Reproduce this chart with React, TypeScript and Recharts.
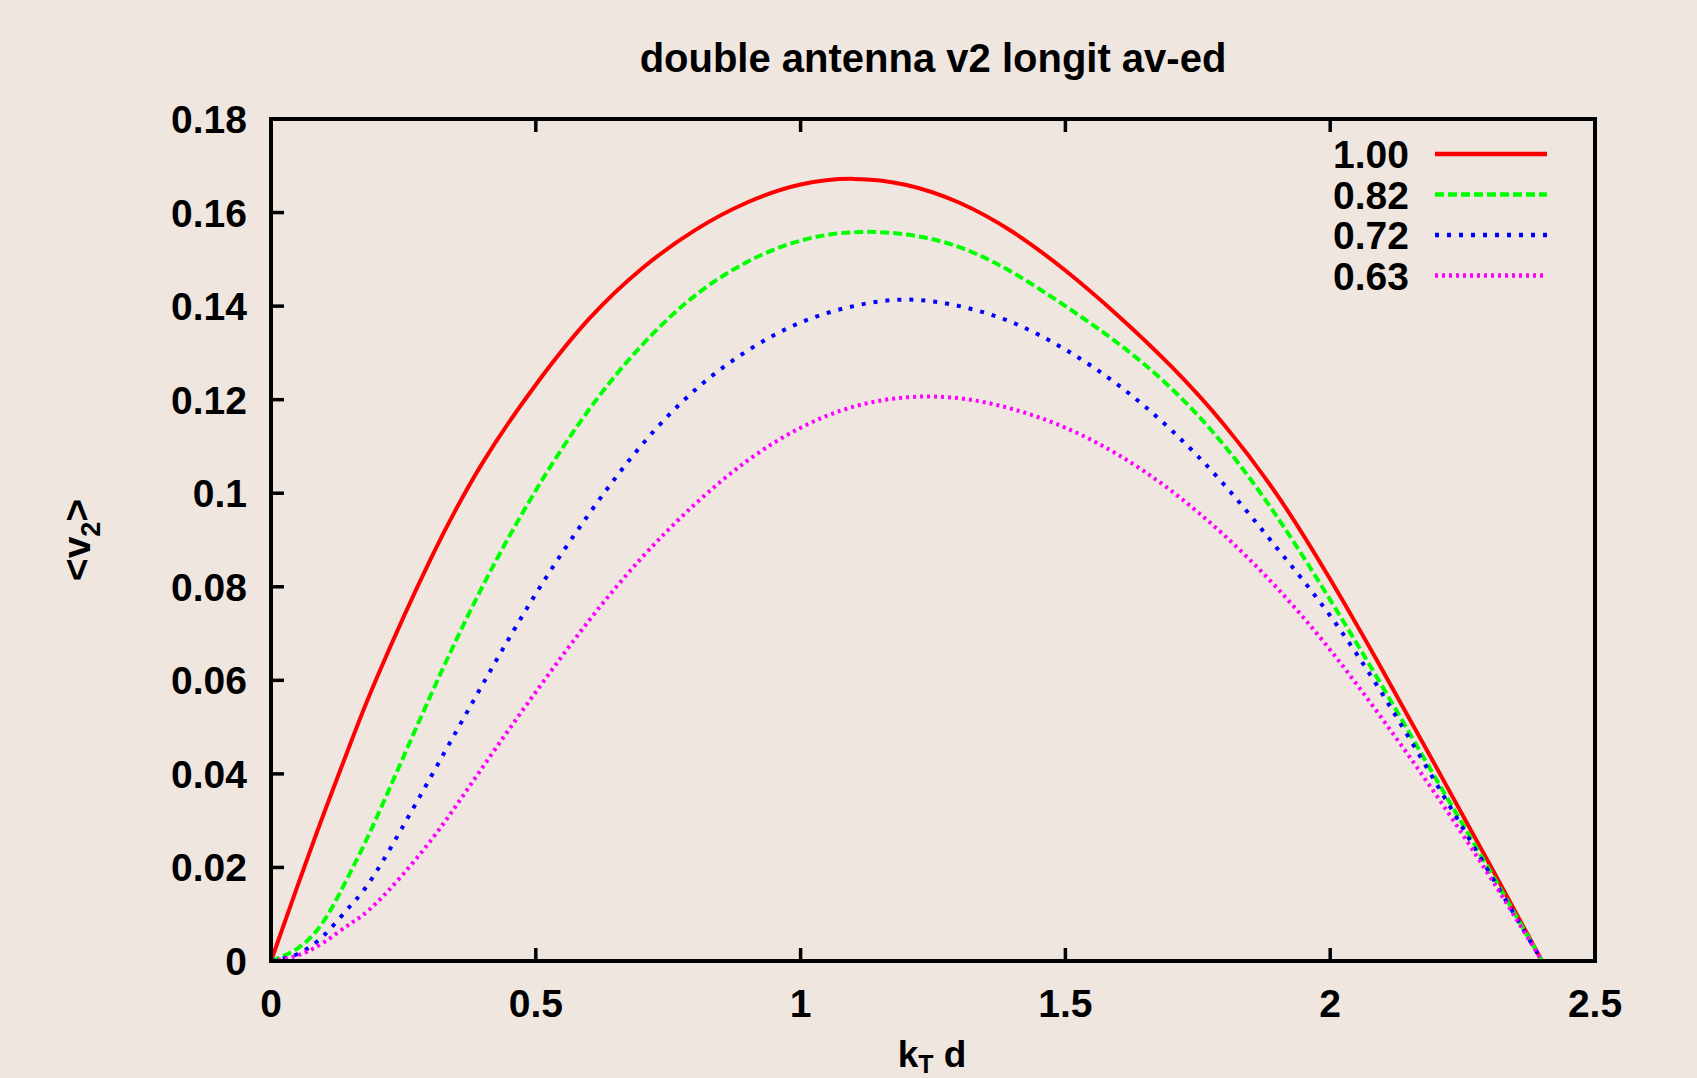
import React from 'react';
import { LineChart, Line, XAxis, YAxis, Legend } from 'recharts';

// ---- data ----
const kT = [0, 0.05, 0.1, 0.15, 0.2, 0.3, 0.4, 0.5, 0.6, 0.7, 0.8, 0.9, 1.0, 1.1, 1.2, 1.3, 1.4, 1.5, 1.6, 1.7, 1.8, 1.9, 2.0, 2.1, 2.2, 2.3, 2.4];
const v2_100 = [0, 0.016, 0.0316, 0.0465, 0.0606, 0.0856, 0.1066, 0.1232, 0.1372, 0.148, 0.1562, 0.1622, 0.166, 0.1672, 0.1659, 0.1621, 0.1559, 0.1476, 0.1379, 0.1271, 0.1146, 0.0996, 0.0816, 0.0619, 0.0415, 0.0209, 0];
const v2_082 = [0, 0.0027, 0.0086, 0.019, 0.0308, 0.0564, 0.0802, 0.1006, 0.1178, 0.1316, 0.1422, 0.1495, 0.154, 0.1558, 0.1553, 0.1526, 0.1472, 0.14, 0.132, 0.1224, 0.1102, 0.0949, 0.0772, 0.0584, 0.0389, 0.0196, 0];
const v2_072 = [0, 0.0015, 0.0055, 0.0118, 0.0193, 0.039, 0.0592, 0.0785, 0.0955, 0.1103, 0.122, 0.1305, 0.1365, 0.14, 0.1414, 0.14, 0.1365, 0.1307, 0.1231, 0.1135, 0.1018, 0.0882, 0.0738, 0.0568, 0.038, 0.019, 0];
const v2_063 = [0, 0.0012, 0.004, 0.008, 0.0125, 0.0255, 0.0415, 0.0575, 0.0727, 0.0862, 0.0976, 0.107, 0.114, 0.1185, 0.1205, 0.1203, 0.118, 0.114, 0.1082, 0.1005, 0.091, 0.0797, 0.0665, 0.0515, 0.0355, 0.0183, 0];

const seriesNames = ['1.00', '0.82', '0.72', '0.63'];
const xTicks = [0, 0.5, 1, 1.5, 2, 2.5];
const xTickLabels = ['0', '0.5', '1', '1.5', '2', '2.5'];
const yTicks = [0, 0.02, 0.04, 0.06, 0.08, 0.1, 0.12, 0.14, 0.16, 0.18];
const yTickLabels = ['0', '0.02', '0.04', '0.06', '0.08', '0.1', '0.12', '0.14', '0.16', '0.18'];
const titleText = 'double antenna v2 longit av-ed';

const rows = kT.map((x, i) => ({
  x,
  s100: v2_100[i],
  s082: v2_082[i],
  s072: v2_072[i],
  s063: v2_063[i],
}));

// ---- styles ----
const seriesKeys = ['s100', 's082', 's072', 's063'];
const seriesColors = ['#ff0000', '#00ff00', '#0000ff', '#ff00ff'];
const seriesDash = [undefined, '9 4', '4 8', '3 4'];

const W = 1697;
const H = 1078;
const BG = '#f0e6e0';
const FONT = '"Liberation Sans", Arial, Helvetica, sans-serif';
const TICK_FS = 39;
const TICK_LEN = 13;
const axisStyle = { stroke: '#000', strokeWidth: 4, strokeLinecap: 'square' as const };

const BottomTick = (p: any) => {
  const i = xTicks.indexOf(p.payload.value);
  return (
    <g>
      <line x1={p.x} y1={p.y} x2={p.x} y2={p.y - TICK_LEN} stroke="#000" strokeWidth={3.5} />
      <text x={p.x} y={p.y + 56} textAnchor="middle" fontFamily={FONT} fontWeight="bold" fontSize={TICK_FS} fill="#000">
        {xTickLabels[i]}
      </text>
    </g>
  );
};

const TopTick = (p: any) => (
  <line x1={p.x} y1={p.y} x2={p.x} y2={p.y + TICK_LEN} stroke="#000" strokeWidth={3.5} />
);

const LeftTick = (p: any) => {
  const i = yTicks.indexOf(p.payload.value);
  return (
    <g>
      <line x1={p.x} y1={p.y} x2={p.x + TICK_LEN} y2={p.y} stroke="#000" strokeWidth={3.5} />
      <text x={p.x - 24} y={p.y + 14} textAnchor="end" fontFamily={FONT} fontWeight="bold" fontSize={TICK_FS} fill="#000">
        {yTickLabels[i]}
      </text>
    </g>
  );
};

const RightTick = (p: any) => (
  <line x1={p.x} y1={p.y} x2={p.x - TICK_LEN} y2={p.y} stroke="#000" strokeWidth={3.5} />
);

// bottom axis label + chart title (both rendered by the bottom axis label)
const XLabelAndTitle = () => (
  <g>
    <text x={933} y={72} textAnchor="middle" fontFamily={FONT} fontWeight="bold" fontSize={40} fill="#000">
      {titleText}
    </text>
    <text x={932} y={1067} textAnchor="middle" fontFamily={FONT} fontWeight="bold" fontSize={37} fill="#000">
      k<tspan fontSize={25} dy={6}>T</tspan>
      <tspan dy={-6}> d</tspan>
    </text>
  </g>
);

const YLabel = () => (
  <text x={90} y={540} transform="rotate(-90 90 540)" textAnchor="middle" fontFamily={FONT} fontWeight="bold" fontSize={39} fill="#000">
    {'<v'}
    <tspan fontSize={27} dy={10}>2</tspan>
    <tspan dy={-10}>{'>'}</tspan>
  </text>
);

const LEG_LEFT = 1280;
const LEG_TOP = 120;

const LegendContent = (props: any) => {
  const payload = props.payload || [];
  return (
    <svg width={300} height={180} style={{ overflow: 'visible' }}>
      {payload.map((entry: any, idx: number) => {
        const k = seriesKeys.indexOf(entry.dataKey);
        const i = k >= 0 ? k : idx;
        const cy = 34 + i * 40.5;
        return (
          <g key={i}>
            <text x={129} y={cy + 14} textAnchor="end" fontFamily={FONT} fontWeight="bold" fontSize={TICK_FS} fill="#000">
              {seriesNames[i]}
            </text>
            <line x1={155} y1={cy} x2={267} y2={cy} stroke={seriesColors[i]} strokeWidth={4.5} strokeDasharray={seriesDash[i]} />
          </g>
        );
      })}
    </svg>
  );
};

export default function App() {
  return (
    <div style={{ position: 'absolute', left: 0, top: 0, width: W, height: H, background: BG, overflow: 'hidden' }}>
      <LineChart width={W} height={H} data={rows} margin={{ top: 118, right: 101, bottom: 57, left: 191 }}>
        <XAxis
          dataKey="x"
          type="number"
          domain={[0, 2.5]}
          ticks={xTicks}
          interval={0}
          height={60}
          tickSize={0}
          tickMargin={0}
          tickLine={false}
          axisLine={axisStyle}
          tick={BottomTick}
          label={{ content: XLabelAndTitle }}
        />
        <XAxis
          xAxisId="top"
          orientation="top"
          dataKey="x"
          type="number"
          domain={[0, 2.5]}
          ticks={xTicks}
          interval={0}
          height={1}
          tickSize={0}
          tickMargin={0}
          tickLine={false}
          axisLine={axisStyle}
          tick={TopTick}
        />
        <YAxis
          type="number"
          domain={[0, 0.18]}
          ticks={yTicks}
          interval={0}
          width={80}
          tickSize={0}
          tickMargin={0}
          tickLine={false}
          axisLine={axisStyle}
          tick={LeftTick}
          label={{ content: YLabel }}
        />
        <YAxis
          yAxisId="right"
          orientation="right"
          type="number"
          domain={[0, 0.18]}
          ticks={yTicks}
          interval={0}
          width={1}
          tickSize={0}
          tickMargin={0}
          tickLine={false}
          axisLine={axisStyle}
          tick={RightTick}
        />
        {seriesKeys.map((key, i) => (
          <Line
            key={key}
            dataKey={key}
            name={seriesNames[i]}
            type="natural"
            stroke={seriesColors[i]}
            strokeWidth={4}
            strokeDasharray={seriesDash[i]}
            dot={false}
            activeDot={false}
            isAnimationActive={false}
          />
        ))}
        <Legend
          layout="vertical"
          align="center"
          verticalAlign="middle"
          content={LegendContent}
          wrapperStyle={{ left: LEG_LEFT, top: LEG_TOP, width: 300, height: 180 }}
        />
      </LineChart>
    </div>
  );
}
